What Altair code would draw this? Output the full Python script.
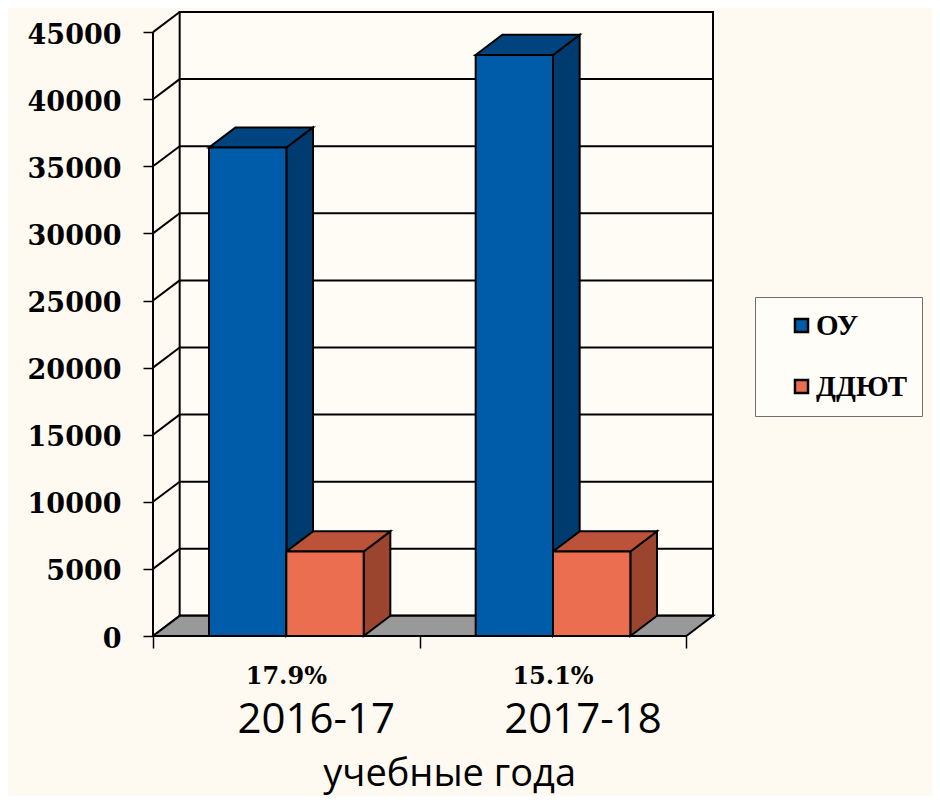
import altair as alt
import pandas as pd

# ---- data ----
years = ["2016-17", "2017-18"]
percents = ["17.9%", "15.1%"]
series = ["ОУ", "ДДЮТ"]
ou_values = [36400, 43300]
ddyut_values = [6300, 6300]
y_ticks = [0, 5000, 10000, 15000, 20000, 25000, 30000, 35000, 40000, 45000]
x_title = "учебные года"

front_colors = ["#005ca9", "#ec6e50"]
top_colors = ["#00447f", "#bd523a"]
side_colors = ["#003b6f", "#9b452f"]

# ---- pseudo-3D geometry (style constants) ----
DEPTH_X = 0.1      # depth offset, category units
DEPTH_Y = 1500     # depth offset, value units
BAR_W = 0.29       # bar width, category units
N = len(years)
X_MAX = N + DEPTH_X
Y_MAX = y_ticks[-1] + DEPTH_Y

values = {series[0]: ou_values, series[1]: ddyut_values}

front_rows, side_rows, top_rows = [], [], []
for i, yr in enumerate(years):
    for s_idx, s in enumerate(series):
        v = values[s][i]
        x0 = i + 0.5 - BAR_W + s_idx * BAR_W
        x1 = x0 + BAR_W
        bid = f"{s}_{yr}"
        front_rows.append({"series": s, "bar": bid, "x": x0, "x2": x1, "y": v, "y2": 0})
        side_rows += [
            {"series": s, "bar": bid, "x": x1, "y": v, "y2": 0},
            {"series": s, "bar": bid, "x": x1 + DEPTH_X, "y": v + DEPTH_Y, "y2": DEPTH_Y},
        ]
        top_rows += [
            {"series": s, "bar": bid, "y": v, "x": x0, "x2": x1},
            {"series": s, "bar": bid, "y": v + DEPTH_Y, "x": x0 + DEPTH_X, "x2": x1 + DEPTH_X},
        ]
front_df = pd.DataFrame(front_rows)
side_df = pd.DataFrame(side_rows)
top_df = pd.DataFrame(top_rows)

wall_df = pd.DataFrame([{"x": DEPTH_X, "x2": N + DEPTH_X, "y": DEPTH_Y, "y2": y_ticks[-1] + DEPTH_Y}])
grid_df = pd.DataFrame([{"x": DEPTH_X, "x2": N + DEPTH_X, "y": t + DEPTH_Y} for t in y_ticks])
conn_df = pd.DataFrame([{"x": 0, "x2": DEPTH_X, "y": t, "y2": t + DEPTH_Y} for t in y_ticks])
floor_df = pd.DataFrame([{"y": 0, "x": 0, "x2": N}, {"y": DEPTH_Y, "x": DEPTH_X, "x2": N + DEPTH_X}])
axis_df = pd.DataFrame([{"x": 0, "y": 0, "y2": y_ticks[-1]}])
label_df = pd.DataFrame({"x": [i + 0.5 for i in range(N)], "pct": percents, "year": years})
title_df = pd.DataFrame([{"x": N / 2, "t": x_title}])

xscale = alt.Scale(domain=[0, X_MAX], nice=False, zero=False)
yscale = alt.Scale(domain=[0, Y_MAX], nice=False, zero=False)
x_axis = alt.Axis(values=list(range(N + 1)), labels=False, domain=False, grid=False,
                  ticks=True, tickSize=12, tickColor="black", tickWidth=1.5, title=None)
y_axis = alt.Axis(values=y_ticks, format="d", domain=False, grid=False, tickSize=10,
                  tickColor="black", tickWidth=1.5, labelFont="DejaVu Serif",
                  labelFontWeight="bold", labelFontSize=27, labelColor="black",
                  labelPadding=22, title=None, labelBaseline="middle", labelOffset=3)


def X(f="x"):
    return alt.X(f"{f}:Q", scale=xscale, axis=x_axis)


def Y(f="y"):
    return alt.Y(f"{f}:Q", scale=yscale, axis=y_axis)


wall = alt.Chart(wall_df).mark_rect(fill="#fffdf8", fillOpacity=0.6, stroke="black",
                                    strokeWidth=2).encode(
    x=X(), x2="x2", y=Y(), y2="y2")
grid = alt.Chart(grid_df).mark_rule(color="black", strokeWidth=2).encode(
    x=X(), x2="x2", y=Y())
conn = alt.Chart(conn_df).mark_rule(color="black", strokeWidth=2).encode(
    x=X(), x2="x2", y=Y(), y2="y2")
floor = alt.Chart(floor_df).mark_area(orient="horizontal", fill="#999999", stroke="black",
                                      strokeWidth=2, opacity=1).encode(
    y=Y(), x=alt.X("x:Q", scale=xscale, axis=x_axis, stack=None), x2="x2")
front_axis = alt.Chart(axis_df).mark_rule(color="black", strokeWidth=2).encode(
    x=X(), y=Y(), y2="y2")

layers = [wall, grid, conn, floor, front_axis]
for s_idx, s in enumerate(series):
    side = alt.Chart(side_df[side_df.series == s]).mark_area(
        fill=side_colors[s_idx], stroke="black", strokeWidth=2, opacity=1).encode(
        x=X(), y=alt.Y("y:Q", scale=yscale, axis=y_axis, stack=None), y2="y2", detail="bar:N")
    top = alt.Chart(top_df[top_df.series == s]).mark_area(
        orient="horizontal", fill=top_colors[s_idx], stroke="black", strokeWidth=2, opacity=1).encode(
        y=Y(), x=alt.X("x:Q", scale=xscale, axis=x_axis, stack=None), x2="x2", detail="bar:N")
    layers += [side, top]

front = alt.Chart(front_df).mark_rect(stroke="black", strokeWidth=2, opacity=1).encode(
    x=X(), x2="x2", y=Y(), y2="y2",
    color=alt.Color("series:N", scale=alt.Scale(domain=series, range=front_colors),
                    legend=alt.Legend(orient="none", legendX=602, legendY=285, title=None,
                                      padding=14, symbolOffset=18, fillColor="#fffdf8",
                                      strokeColor="#6e6e6e", symbolType="square",
                                      symbolSize=170, symbolStrokeColor="black",
                                      symbolStrokeWidth=2.5, symbolOpacity=1,
                                      labelFont="Liberation Serif", labelFontWeight="bold",
                                      labelFontSize=29, labelColor="black", labelOffset=0,
                                      rowPadding=31, labelLimit=300)))
layers.append(front)

pct = alt.Chart(label_df).mark_text(font="DejaVu Serif", fontWeight="bold", fontSize=24,
                                    color="black", baseline="alphabetic", align="center").encode(
    x=X(), y=alt.value(672), text="pct:N")
yr = alt.Chart(label_df).mark_text(font="Open Sans", fontSize=42, color="black",
                                   baseline="alphabetic", align="center", xOffset=30).encode(
    x=X(), y=alt.value(721), text="year:N")
ttl = alt.Chart(title_df).mark_text(font="Open Sans", fontSize=38, color="black",
                                    baseline="alphabetic", align="center", xOffset=30).encode(
    x=X(), y=alt.value(774), text="t:N")
layers += [pct, yr, ttl]

chart = alt.layer(*layers).properties(
    width=560, height=624,
    padding={"left": 145, "top": 4, "right": 219, "bottom": 160},
    autosize=alt.AutoSizeParams(type="none"),
    background="#fefaf2",
).configure_view(stroke=None)

chart.save("out.html", embed_options={"renderer": "svg", "actions": False})
